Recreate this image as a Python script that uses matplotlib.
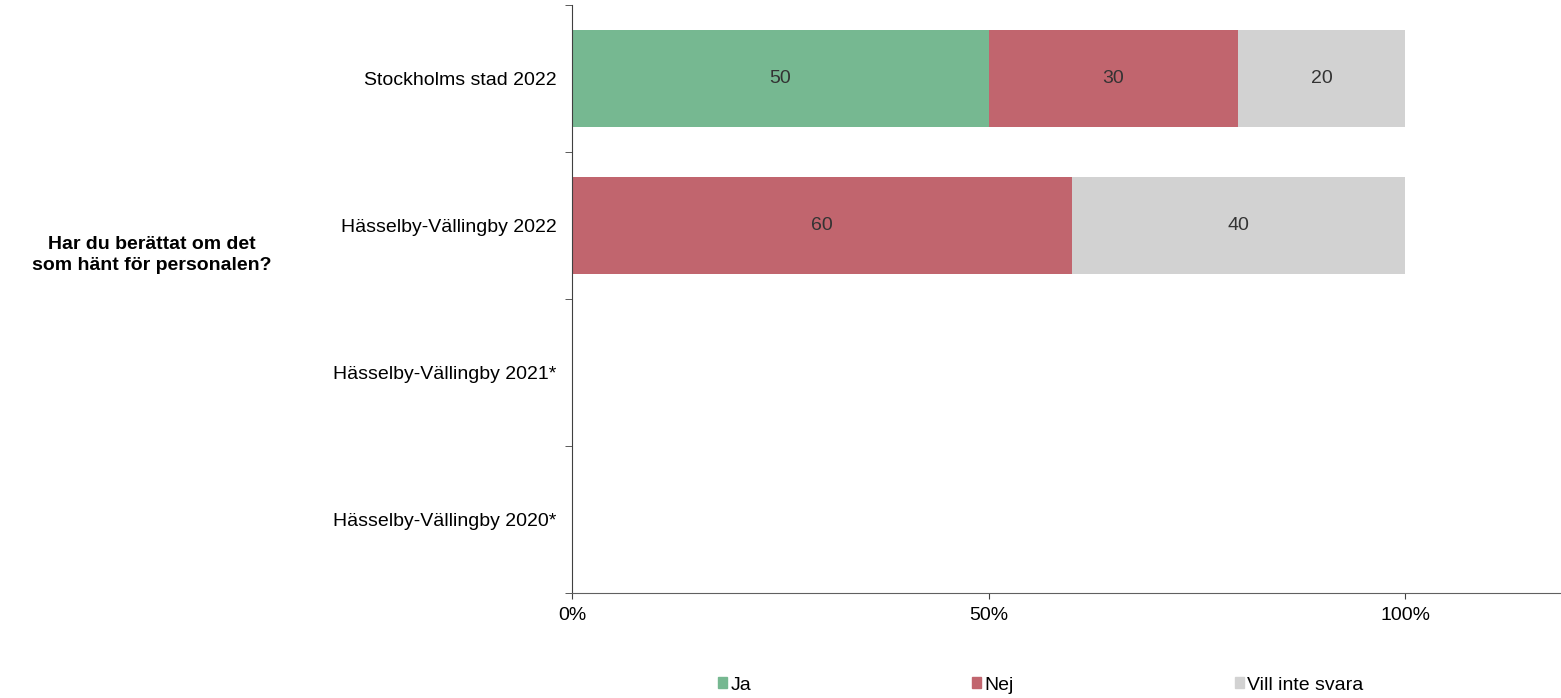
import numpy as np
import matplotlib.pyplot as plt
from matplotlib.patches import Patch

plt.rcParams['font.family'] = ['Liberation Sans', 'DejaVu Sans']

categories = ["Stockholms stad 2022", "Hässelby-Vällingby 2022",
              "Hässelby-Vällingby 2021*", "Hässelby-Vällingby 2020*"]
ja = [50, 0, 0, 0]
nej = [30, 60, 0, 0]
vill = [20, 40, 0, 0]
series = ["Ja", "Nej", "Vill inte svara"]
colors = ["#76B891", "#C1656E", "#D2D2D2"]
question = "Har du berättat om det\nsom hänt för personalen?"

fs = 14
fig = plt.figure(figsize=(15.61, 6.98), dpi=100)
ax = fig.add_axes([572 / 1561, 1 - 593 / 698, (1560 - 572) / 1561, (593 - 5) / 698])

y = np.arange(len(categories))
left = np.zeros(len(categories))
for vals, name, col in zip([ja, nej, vill], series, colors):
    v = np.array(vals) / 100
    ax.barh(y, v, left=left, height=0.66, color=col, label=name)
    for yi, (l, val) in enumerate(zip(left, vals)):
        if val > 0:
            ax.text(l + v[yi] / 2, yi, str(val), ha='center', va='center',
                    fontsize=fs, color='#333333')
    left += v

ax.set_ylim(len(categories) - 0.5, -0.5)
ax.set_xlim(0, 1.186)
ax.set_yticks(y)
ax.set_yticklabels(categories, fontsize=fs)
ax.set_yticks(np.arange(len(categories) + 1) - 0.5, minor=True)
ax.tick_params(axis='y', which='major', length=0, pad=11)
ax.tick_params(axis='y', which='minor', length=5, color='#404040')
ax.set_xticks([0, 0.5, 1])
ax.set_xticklabels(["0%", "50%", "100%"], fontsize=fs)
ax.tick_params(axis='x', length=4, color='#404040', pad=6)
for s in ['top', 'right']:
    ax.spines[s].set_visible(False)
ax.spines['left'].set_color('#404040')
ax.spines['bottom'].set_color('#606060')

fig.text(152 / 1561, 1 - 255 / 698, question, ha='center', va='center',
         fontsize=fs, fontweight='bold', linespacing=1.3)

handles = [Patch(color=c) for c in colors]
fig.legend(handles, series, loc='center left', bbox_to_anchor=(718 / 1561, 1 - 685 / 698),
           ncol=3, frameon=False, fontsize=fs, handlelength=0.45, handleheight=0.45,
           handletextpad=0.2, columnspacing=11.35, borderpad=0, borderaxespad=0)

fig.savefig("out.png", dpi=100)
